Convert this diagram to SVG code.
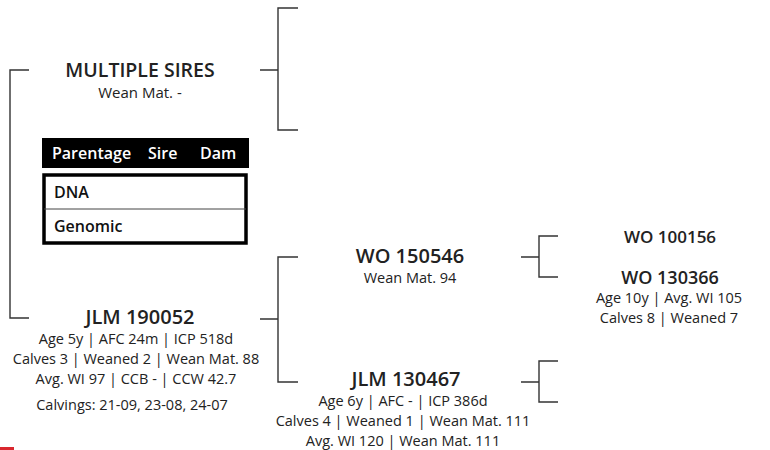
<svg xmlns="http://www.w3.org/2000/svg" width="770" height="450" viewBox="0 0 770 450">
<style>
.ln{fill:none;stroke:#333;stroke-width:1.4}
.t{font-family:"Open Sans","Noto Sans",sans-serif;fill:#222;text-anchor:middle}
.h{font-size:18px;font-weight:600}
.d{font-size:14.5px}
.th{font-family:"Open Sans","Noto Sans",sans-serif;font-size:16px;font-weight:600;fill:#fff}
.tr{font-family:"Open Sans","Noto Sans",sans-serif;font-size:16px;font-weight:600;fill:#111}
</style>
<rect width="770" height="450" fill="#fff"/>
<g id="connectors">
<path class="ln" d="M29,70 H10 V318 H29"/>
<path class="ln" d="M260,70 H278 M298,8 H278 V130 H298"/>
<path class="ln" d="M260,319 H278 M298,257 H278 V382 H298"/>
<path class="ln" d="M521,257 H539 M558,236 H539 V277 H558"/>
<path class="ln" d="M521,382 H539 M558,361 H539 V402 H558"/>
</g>
<g id="node-multiple-sires">
<text class="t h" x="140" y="77" style="font-size:19.5px">MULTIPLE SIRES</text>
<text class="t d" x="140" y="98" style="font-size:15px">Wean Mat. -</text>
</g>
<g id="parentage-table">
<rect x="42" y="138" width="207" height="30" fill="#000"/>
<text class="th" x="52" y="159">Parentage</text>
<text class="th" x="148" y="159">Sire</text>
<text class="th" x="200" y="159">Dam</text>
<rect x="44" y="175" width="202" height="68" fill="#fff" stroke="#000" stroke-width="3.5"/>
<line x1="44" y1="209" x2="246" y2="209" stroke="#444" stroke-width="1"/>
<text class="tr" x="54" y="198">DNA</text>
<text class="tr" x="54" y="232">Genomic</text>
</g>
<g id="node-jlm-190052">
<text class="t h" x="140" y="324" style="font-size:20px">JLM 190052</text>
<text class="t d" x="136" y="344">Age 5y | AFC 24m | ICP 518d</text>
<text class="t d" x="136" y="364">Calves 3 | Weaned 2 | Wean Mat. 88</text>
<text class="t d" x="136" y="384">Avg. WI 97 | CCB - | CCW 42.7</text>
<text class="t d" x="132" y="410">Calvings: 21-09, 23-08, 24-07</text>
</g>
<g id="node-wo-150546">
<text class="t h" x="410" y="263" style="font-size:20px">WO 150546</text>
<text class="t d" x="410" y="283">Wean Mat. 94</text>
</g>
<g id="node-jlm-130467">
<text class="t h" x="406" y="386" style="font-size:20px">JLM 130467</text>
<text class="t d" x="403" y="406">Age 6y | AFC - | ICP 386d</text>
<text class="t d" x="403" y="426">Calves 4 | Weaned 1 | Wean Mat. 111</text>
<text class="t d" x="403" y="446">Avg. WI 120 | Wean Mat. 111</text>
</g>
<g id="node-wo-100156">
<text class="t h" x="670" y="243" style="font-size:17px">WO 100156</text>
</g>
<g id="node-wo-130366">
<text class="t h" x="670" y="284" style="font-size:18px">WO 130366</text>
<text class="t d" x="669" y="303">Age 10y | Avg. WI 105</text>
<text class="t d" x="669" y="323">Calves 8 | Weaned 7</text>
</g>
<rect x="0" y="447" width="14" height="3" fill="#d9272e"/>
</svg>
